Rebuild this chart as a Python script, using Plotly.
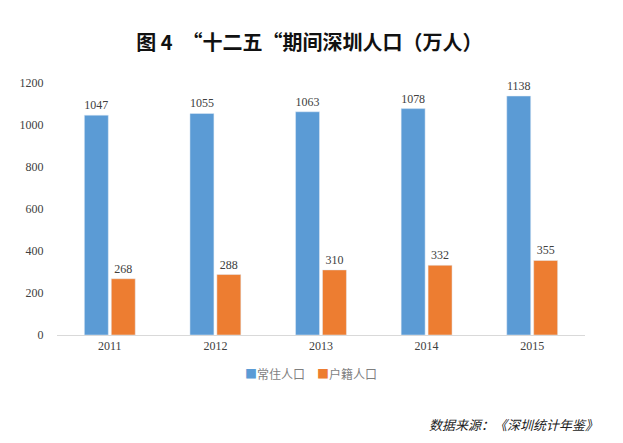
import plotly.graph_objects as go

years = ["2011", "2012", "2013", "2014", "2015"]
resident = [1047, 1055, 1063, 1078, 1138]
registered = [268, 288, 310, 332, 355]
y_ticks = [0, 200, 400, 600, 800, 1000, 1200]

serif = "Liberation Serif, Times New Roman, serif"
cjk = "Noto Sans CJK SC"

fig = go.Figure()
fig.add_trace(go.Bar(x=years, y=resident, name="常住人口", marker_color="#5B9BD5",
                     text=resident, textposition="outside",
                     textfont=dict(family=serif, size=12, color="#404040"), cliponaxis=False))
fig.add_trace(go.Bar(x=years, y=registered, name="户籍人口", marker_color="#ED7D31",
                     text=registered, textposition="outside",
                     textfont=dict(family=serif, size=12, color="#404040"), cliponaxis=False))

fig.update_layout(
    width=615, height=435,
    paper_bgcolor="white", plot_bgcolor="white",
    margin=dict(l=47, r=38, t=75, b=108),
    barmode="group", bargap=0.49, bargroupgap=0.11,
    title=dict(text="<b>图 4　“十二五“期间深圳人口（万人）</b>", x=0.49, xanchor="center",
               y=0.92, yanchor="middle",
               font=dict(family=cjk, size=20, color="#111111")),
    showlegend=False,
    xaxis=dict(showline=True, linecolor="#D9D9D9", linewidth=1, ticks="",
               tickfont=dict(family=serif, size=12, color="#404040")),
    yaxis=dict(range=[0, 1200], tickvals=y_ticks, showgrid=False, zeroline=False,
               tickfont=dict(family=serif, size=12, color="#404040"), ticklen=10,
               ticks="outside", tickcolor="white"),
    annotations=[
        dict(text="<span style='color:#5B9BD5'>■</span>常住人口　<span style='color:#ED7D31'>■</span>户籍人口",
             xref="paper", yref="paper", x=0.481, y=-0.151, xanchor="center", yanchor="middle",
             showarrow=False, font=dict(family=cjk, size=12, color="#7F7F7F")),
        dict(text="<i>数据来源：《深圳统计年鉴》</i>", xref="paper", yref="paper",
             x=1.028, y=-0.357, xanchor="right", yanchor="middle", showarrow=False,
             font=dict(family=cjk, size=13, color="#222222")),
    ],
)

fig.write_html("out.html")
